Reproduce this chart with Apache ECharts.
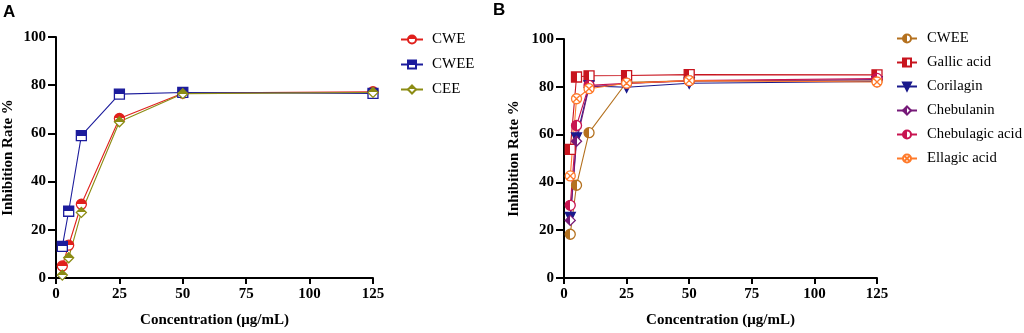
<!DOCTYPE html>
<html>
<head>
<meta charset="utf-8">
<script src="https://cdn.jsdelivr.net/npm/echarts@6/dist/echarts.min.js"></script>
<style>
  html, body { margin: 0; padding: 0; background: #fff; }
  #chart { width: 1024px; height: 333px; }
</style>
</head>
<body>
<div id="chart"></div>
<script>
// concentrations (µg/mL)
const conc = [2.5, 5, 10, 25, 50, 125];
const xTicks = [0, 25, 50, 75, 100, 125];
const yTicks = [0, 20, 40, 60, 80, 100];

// panel A
const cwe = [5.0, 13.6, 30.6, 66.2, 76.7, 77.3];
const cweeA = [13.1, 27.7, 59.1, 76.3, 77.0, 76.6];
const cee = [1.2, 8.4, 27.2, 64.8, 76.5, 77.0];

// panel B
const cweeB = [18.3, 38.8, 60.8, 81.9, 82.5, 82.4];
const gallic = [53.8, 84.1, 84.6, 84.7, 85.1, 85.0];
const corilagin = [25.4, 58.6, 80.4, 79.8, 81.5, 82.2];
const chebulanin = [24.1, 57.2, 79.8, 81.4, 82.4, 83.0];
const chebulagic = [30.4, 63.8, 80.6, 81.5, 82.6, 83.5];
const ellagic = [42.7, 75.0, 79.2, 81.5, 82.6, 82.0];

const serif = '"Liberation Serif", "Times New Roman", serif';
const sans = '"Liberation Sans", Arial, sans-serif';

const pts = (ys) => conc.map((x, i) => [x, ys[i]]);

// half filled marker: coloured half + white half
function half(color, dir) {
  const g = dir === 'left' ? [0, 0, 1, 0] : [0, 0, 0, 1];
  return new echarts.graphic.LinearGradient(g[0], g[1], g[2], g[3], [
    { offset: 0, color: color },
    { offset: 0.5, color: color },
    { offset: 0.5, color: '#fff' },
    { offset: 1, color: '#fff' }
  ]);
}

const diamond = 'path://M10,0 L20,10 L10,20 L0,10 Z';
const triDown = 'path://M0,0 L20,0 L10,17 Z';
const crossCircle = 'path://M0,10 A10,10 0 1,1 20,10 A10,10 0 1,1 0,10 Z M2.93,2.93 L17.07,17.07 M17.07,2.93 L2.93,17.07';

function line(name, data, color, symbol, fill, gridIdx, size) {
  return {
    name: name,
    type: 'line',
    xAxisIndex: gridIdx,
    yAxisIndex: gridIdx,
    data: pts(data),
    symbol: symbol,
    symbolSize: size || 10,
    showAllSymbol: true,
    lineStyle: { color: color, width: 1.1 },
    itemStyle: { color: fill, borderColor: color, borderWidth: 1.3 },
    emphasis: { disabled: true },
    z: 3
  };
}

function xAxis(gridIdx) {
  return {
    type: 'value', gridIndex: gridIdx, min: 0, max: 125, interval: 25,
    name: 'Concentration (μg/mL)', nameLocation: 'middle', nameGap: 35,
    nameTextStyle: { fontFamily: serif, fontWeight: 'bold', fontSize: 15, color: '#000' },
    axisLine: { lineStyle: { color: '#000', width: 2 } },
    axisTick: { length: 6, lineStyle: { color: '#000', width: 2 } },
    axisLabel: { fontFamily: serif, fontWeight: 'bold', fontSize: 15, color: '#000', margin: 9,
      formatter: (v) => xTicks.includes(v) ? String(v) : '' },
    splitLine: { show: false }
  };
}

function yAxis(gridIdx, gap) {
  return {
    type: 'value', gridIndex: gridIdx, min: 0, max: 100, interval: 20,
    name: 'Inhibition Rate %', nameLocation: 'middle', nameGap: gap,
    nameTextStyle: { fontFamily: serif, fontWeight: 'bold', fontSize: 15, color: '#000' },
    axisLine: { show: true, lineStyle: { color: '#000', width: 2 } },
    axisTick: { show: true, length: 8, lineStyle: { color: '#000', width: 2 } },
    axisLabel: { fontFamily: serif, fontWeight: 'bold', fontSize: 15, color: '#000', margin: 10,
      formatter: (v) => yTicks.includes(v) ? String(v) : '' },
    splitLine: { show: false }
  };
}

const chart = echarts.init(document.getElementById('chart'));

const option = {
  backgroundColor: '#fff',
  animation: false,
  title: [
    { text: 'A', left: 3, top: 4, padding: 0, textStyle: { fontFamily: sans, fontWeight: 'bold', fontSize: 17, color: '#000' } },
    { text: 'B', left: 493, top: 2, padding: 0, textStyle: { fontFamily: sans, fontWeight: 'bold', fontSize: 17, color: '#000' } }
  ],
  grid: [
    { left: 53, top: 37, width: 320, height: 242 },
    { left: 564, top: 39, width: 313, height: 239 }
  ],
  xAxis: [xAxis(0), xAxis(1)],
  yAxis: [yAxis(0, 40), yAxis(1, 42)],
  legend: [
    {
      orient: 'vertical', left: 400, top: 32, padding: 0, itemWidth: 22, itemHeight: 10, itemGap: 10,
      data: ['CWE', 'CWEE', 'CEE'],
      textStyle: { fontFamily: serif, fontSize: 15, color: '#000', padding: [0, 0, 0, 4] }
    },
    {
      orient: 'vertical', left: 896, top: 31, padding: 0, itemWidth: 20, itemHeight: 10, itemGap: 9,
      data: ['CWEE ', 'Gallic acid', 'Corilagin', 'Chebulanin', 'Chebulagic acid', 'Ellagic acid'],
      textStyle: { fontFamily: serif, fontSize: 14.7, color: '#000', padding: [0, 0, 0, 5] }
    }
  ],
  series: [
    line('CWE', cwe, '#e0201c', 'circle', half('#e0201c', 'top'), 0),
    line('CWEE', cweeA, '#1c1c9c', 'rect', half('#1c1c9c', 'top'), 0),
    line('CEE', cee, '#8c8c14', diamond, half('#8c8c14', 'top'), 0),
    line('CWEE ', cweeB, '#b4711f', 'circle', half('#b4711f', 'left'), 1),
    line('Gallic acid', gallic, '#c8141e', 'rect', half('#c8141e', 'left'), 1),
    line('Corilagin', corilagin, '#1a1a8c', triDown, '#1a1a8c', 1),
    line('Chebulanin', chebulanin, '#761a78', diamond, half('#761a78', 'left'), 1),
    line('Chebulagic acid', chebulagic, '#c81450', 'circle', half('#c81450', 'left'), 1),
    line('Ellagic acid', ellagic, '#ff7a2a', crossCircle, '#fff', 1)
  ]
};

chart.setOption(option);
</script>
</body>
</html>
